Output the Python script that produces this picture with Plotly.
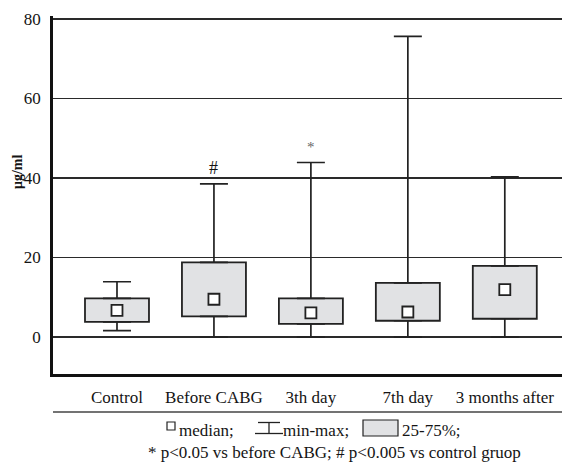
import plotly.graph_objects as go

# ---- data ----
categories = ["Control", "Before CABG", "3th day", "7th day", "3 months after"]
v_min = [1.6, 0.0, 0.0, 0.0, 0.0]
v_q1 = [3.8, 5.2, 3.3, 4.1, 4.6]
v_median = [6.7, 9.5, 6.1, 6.3, 11.9]
v_q3 = [9.7, 18.8, 9.7, 13.6, 17.9]
v_max = [13.9, 38.5, 43.9, 75.6, 40.3]
sig_marks = ["", "#", "*", "", ""]
y_ticks = [0, 20, 40, 60, 80]

FONT = "Liberation Serif"
TXT = "#141414"
W, H = 562, 462
L, R, T, B = 53, 0, 16, 88
PW, PH = W - L - R, H - T - B


def px(xp):
    return (xp - L) / PW


def py(yp):
    return (H - B - yp) / PH


xs = list(range(len(categories)))

fig = go.Figure()

# boxes (25-75%)
fig.add_trace(go.Bar(
    x=xs, base=v_q1, y=[q3 - q1 for q1, q3 in zip(v_q1, v_q3)],
    width=0.66, marker=dict(color="#e1e2e4", line=dict(color="#222", width=1.8)),
    showlegend=False, hoverinfo="skip",
))
# upper whiskers
fig.add_trace(go.Scatter(
    x=xs, y=v_q3, mode="markers", marker=dict(color="rgba(0,0,0,0)", size=1),
    error_y=dict(type="data", symmetric=False,
                 array=[mx - q3 for mx, q3 in zip(v_max, v_q3)],
                 arrayminus=[0] * len(xs), color="#222", thickness=1.7, width=14),
    showlegend=False, hoverinfo="skip",
))
# lower whiskers
fig.add_trace(go.Scatter(
    x=xs, y=v_q1, mode="markers", marker=dict(color="rgba(0,0,0,0)", size=1),
    error_y=dict(type="data", symmetric=False,
                 array=[0] * len(xs),
                 arrayminus=[q1 - mn for mn, q1 in zip(v_min, v_q1)],
                 color="#222", thickness=1.7, width=14),
    showlegend=False, hoverinfo="skip",
))
# medians
fig.add_trace(go.Scatter(
    x=xs, y=v_median, mode="markers",
    marker=dict(symbol="square", size=11, color="white", line=dict(color="#222", width=1.8)),
    showlegend=False, hoverinfo="skip",
))

annotations = []
for i, s in enumerate(sig_marks):
    if s:
        annotations.append(dict(x=xs[i], y=v_max[i], xref="x", yref="y", text=s, showarrow=False,
                                yanchor="middle", yshift=16,
                                font=dict(family=FONT, size=18 if s == "#" else 15,
                                          color=TXT if s == "#" else "#666")))

# y-axis title
annotations.append(dict(x=px(17), y=py(172), xref="paper", yref="paper", text="<b>μg/ml</b>",
                        textangle=-90, showarrow=False, xanchor="center", yanchor="middle",
                        font=dict(family=FONT, size=14, color=TXT)))

# legend texts
leg_font = dict(family=FONT, size=17, color=TXT)
annotations += [
    dict(x=px(177), y=py(430), xref="paper", yref="paper", text="median;", showarrow=False,
         xanchor="left", yanchor="middle", font=leg_font),
    dict(x=px(281), y=py(430), xref="paper", yref="paper", text="min-max;", showarrow=False,
         xanchor="left", yanchor="middle", font=leg_font),
    dict(x=px(400), y=py(430), xref="paper", yref="paper", text="25-75%;", showarrow=False,
         xanchor="left", yanchor="middle", font=leg_font),
    dict(x=px(334.5), y=py(452), xref="paper", yref="paper",
         text="* p<0.05 vs before CABG; # p<0.005 vs control gruop", showarrow=False,
         xanchor="center", yanchor="middle", font=leg_font),
]

shapes = [
    # separator line below category labels
    dict(type="line", xref="paper", yref="paper", x0=px(53), x1=1, y0=py(412), y1=py(412),
         line=dict(color="#444", width=1.5)),
    # legend: median square
    dict(type="rect", xref="paper", yref="paper", x0=px(167), x1=px(175), y0=py(430), y1=py(422),
         fillcolor="white", line=dict(color="#222", width=1.2)),
    # legend: min-max symbol
    dict(type="line", xref="paper", yref="paper", x0=px(258), x1=px(280), y0=py(422.5), y1=py(422.5),
         line=dict(color="#222", width=1.3)),
    dict(type="line", xref="paper", yref="paper", x0=px(269), x1=px(269), y0=py(422.5), y1=py(433.5),
         line=dict(color="#222", width=1.3)),
    dict(type="line", xref="paper", yref="paper", x0=px(255), x1=px(283), y0=py(433.5), y1=py(433.5),
         line=dict(color="#222", width=1.3)),
    # legend: box
    dict(type="rect", xref="paper", yref="paper", x0=px(363), x1=px(398), y0=py(436), y1=py(420),
         fillcolor="#e1e2e4", line=dict(color="#222", width=1.2)),
]

fig.update_layout(
    width=W, height=H,
    margin=dict(l=L, r=R, t=T, b=B, pad=0),
    paper_bgcolor="white", plot_bgcolor="white",
    bargap=0, showlegend=False,
    font=dict(family=FONT, size=17, color=TXT),
    annotations=annotations, shapes=shapes,
    xaxis=dict(range=[-0.66, 4.59], tickmode="array", tickvals=xs, ticktext=categories,
               showgrid=False, zeroline=False, showline=True, linecolor="#111", linewidth=2.8,
               ticks="", ticklabelstandoff=6, tickfont=dict(family=FONT, size=17, color=TXT),
               fixedrange=True),
    yaxis=dict(range=[-9.3, 80.75], tickmode="array", tickvals=y_ticks,
               showgrid=True, gridcolor="#2a2a2a", gridwidth=1.2, zeroline=False,
               showline=True, linecolor="#111", linewidth=2.8,
               ticks="", ticklabelstandoff=6, tickfont=dict(family=FONT, size=17, color=TXT),
               fixedrange=True),
)

fig.write_html(
    "out.html",
    config={"displayModeBar": False, "staticPlot": True},
    post_script="document.body.style.margin='0';document.body.style.overflow='hidden';",
)
